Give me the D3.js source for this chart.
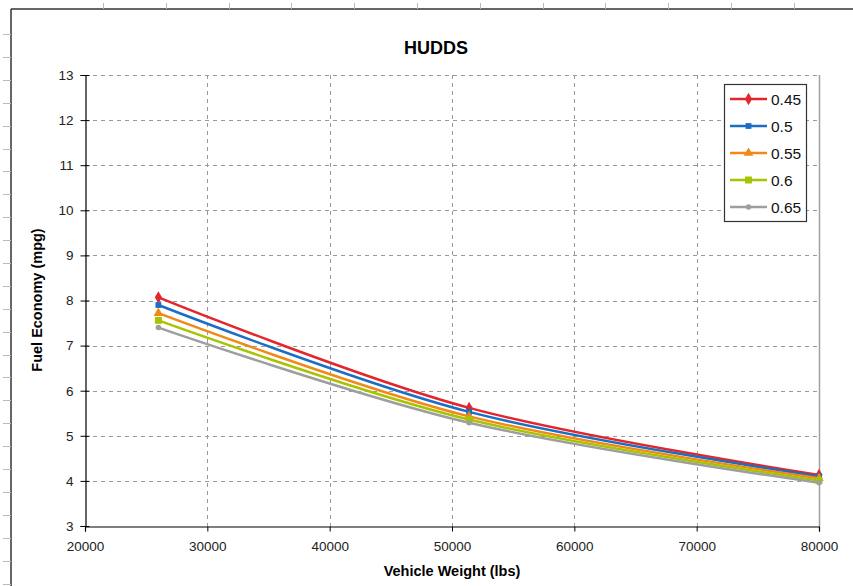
<!DOCTYPE html>
<html>
<head>
<meta charset="utf-8">
<script src="https://cdn.jsdelivr.net/npm/d3@7"></script>
<style>
  html, body { margin: 0; padding: 0; background: #fff; }
  svg { display: block; font-family: "Liberation Sans", Arial, sans-serif; }
</style>
</head>
<body>
<svg id="chart" width="853" height="586"></svg>
<script>
// Vehicle weights (lbs) at which fuel economy was simulated
const weights = [26000, 51400, 80000];

// Fuel economy (mpg) for each coefficient value
const seriesNames = ["0.45", "0.5", "0.55", "0.6", "0.65"];
const mpg045 = [8.07, 5.62, 4.13];
const mpg050 = [7.90, 5.53, 4.10];
const mpg055 = [7.72, 5.43, 4.06];
const mpg060 = [7.56, 5.36, 4.01];
const mpg065 = [7.40, 5.29, 3.96];

const xTicks = [20000, 30000, 40000, 50000, 60000, 70000, 80000];
const yTicks = [3, 4, 5, 6, 7, 8, 9, 10, 11, 12, 13];

const seriesValues = [mpg045, mpg050, mpg055, mpg060, mpg065];
const colors = ["#e3262d", "#1a6fc4", "#f08a16", "#a8c300", "#9e9e9e"];
const markers = [d3.symbolDiamond, d3.symbolSquare, d3.symbolTriangle, d3.symbolSquare, d3.symbolCircle];
const markerSizes = [44, 34, 40, 48, 24];

const svg = d3.select("#chart");
const W = 853, H = 586;

// Worksheet frame behind the chart
const frame = svg.append("g");
frame.append("line").attr("x1", 11).attr("x2", W).attr("y1", 9).attr("y2", 9)
  .attr("stroke", "#333").attr("stroke-width", 1.5);
frame.append("line").attr("x1", 11).attr("x2", 11).attr("y1", 9).attr("y2", H)
  .attr("stroke", "#333").attr("stroke-width", 1.5);
for (let x = 103; x < W; x += 62.8) {
  frame.append("line").attr("x1", Math.round(x) + 0.5).attr("x2", Math.round(x) + 0.5)
    .attr("y1", 3).attr("y2", 9).attr("stroke", "#bbb");
}
for (let y = 34; y < H; y += 22.9) {
  frame.append("line").attr("x1", 3).attr("x2", 11)
    .attr("y1", Math.round(y) + 0.5).attr("y2", Math.round(y) + 0.5).attr("stroke", "#bbb");
}

const plot = { left: 85, right: 819, top: 75, bottom: 526 };

const x = d3.scaleLinear().domain([20000, 80000]).range([plot.left, plot.right]);
const y = d3.scaleLinear().domain([3, 13]).range([plot.bottom, plot.top]);

// Gridlines
const grid = svg.append("g");
grid.selectAll(".gy").data(yTicks.slice(1)).join("line")
  .attr("x1", plot.left).attr("x2", plot.right)
  .attr("y1", d => Math.round(y(d)) + 0.5).attr("y2", d => Math.round(y(d)) + 0.5)
  .attr("stroke", "#9a9a9a").attr("stroke-dasharray", "4,4");
grid.selectAll(".gx").data(xTicks.slice(1, -1)).join("line")
  .attr("x1", d => Math.round(x(d)) + 0.5).attr("x2", d => Math.round(x(d)) + 0.5)
  .attr("y1", plot.top).attr("y2", plot.bottom)
  .attr("stroke", "#9a9a9a").attr("stroke-dasharray", "4,4");
// Plot area right edge
grid.append("line")
  .attr("x1", plot.right + 0.5).attr("x2", plot.right + 0.5)
  .attr("y1", plot.top).attr("y2", plot.bottom)
  .attr("stroke", "#a0a0a0").attr("stroke-width", 1.5);

// Axes
const xAxis = svg.append("g").attr("transform", `translate(0,${plot.bottom + 0.5})`)
  .call(d3.axisBottom(x).tickValues(xTicks).tickFormat(d3.format("d")).tickSize(5).tickPadding(10));
const yAxis = svg.append("g").attr("transform", `translate(${plot.left + 0.5},0)`)
  .call(d3.axisLeft(y).tickValues(yTicks).tickFormat(d3.format("d")).tickSize(5).tickPadding(7));
[xAxis, yAxis].forEach(g => {
  g.select(".domain").attr("stroke", "#000").attr("stroke-width", 1.2);
  g.selectAll(".tick line").attr("stroke", "#000");
  g.selectAll(".tick text").attr("font-size", 13.5).attr("fill", "#222")
    .attr("font-family", "'Liberation Sans', Arial, sans-serif");
});
// Ticks cross the axis line
yAxis.selectAll(".tick line").attr("x1", 4);
xAxis.selectAll(".tick line").attr("y1", 0);

// Series lines and markers
const line = d3.line().x(d => x(d[0])).y(d => y(d[1])).curve(d3.curveCatmullRom.alpha(0));
const seriesG = svg.append("g");
seriesValues.forEach((vals, i) => {
  const pts = weights.map((w, k) => [w, vals[k]]);
  seriesG.append("path").datum(pts).attr("d", line)
    .attr("fill", "none").attr("stroke", colors[i]).attr("stroke-width", 2.5);
});
seriesValues.forEach((vals, i) => {
  const pts = weights.map((w, k) => [w, vals[k]]);
  seriesG.selectAll(null).data(pts).join("path")
    .attr("transform", d => `translate(${x(d[0])},${y(d[1])})`)
    .attr("d", d3.symbol().type(markers[i]).size(markerSizes[i]))
    .attr("fill", colors[i]);
});

// Title and axis titles
svg.append("text").attr("x", 436).attr("y", 54).attr("text-anchor", "middle")
  .attr("font-size", 18).attr("font-weight", "bold").text("HUDDS");
svg.append("text").attr("x", 452).attr("y", 576).attr("text-anchor", "middle")
  .attr("font-size", 14.5).attr("font-weight", "bold").text("Vehicle Weight (lbs)");
svg.append("text").attr("transform", "translate(42,300) rotate(-90)").attr("text-anchor", "middle")
  .attr("font-size", 14.5).attr("font-weight", "bold").text("Fuel Economy (mpg)");

// Legend
const legend = svg.append("g");
legend.append("rect").attr("x", 724.5).attr("y", 84.5).attr("width", 82).attr("height", 137)
  .attr("fill", "#fff").attr("stroke", "#333").attr("stroke-width", 1.2);
seriesNames.forEach((name, i) => {
  const ly = 99 + i * 27;
  legend.append("line").attr("x1", 730).attr("x2", 767).attr("y1", ly).attr("y2", ly)
    .attr("stroke", colors[i]).attr("stroke-width", 2.5);
  legend.append("path").attr("transform", `translate(748.5,${ly})`)
    .attr("d", d3.symbol().type(markers[i]).size(markerSizes[i])).attr("fill", colors[i]);
  legend.append("text").attr("x", 771).attr("y", ly + 5.5).attr("font-size", 15.5)
    .attr("fill", "#111").text(name);
});
</script>
</body>
</html>
